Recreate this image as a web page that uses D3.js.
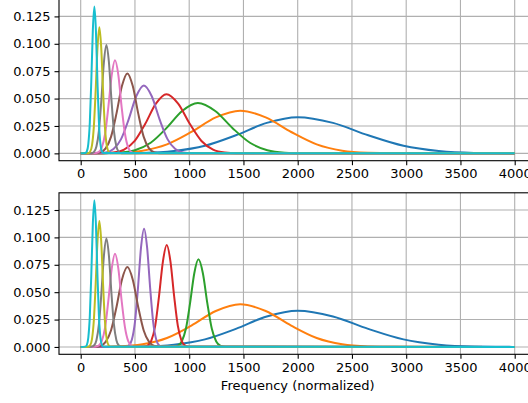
<!DOCTYPE html>
<html>
<head>
<meta charset="utf-8">
<script src="https://cdn.jsdelivr.net/npm/d3@7"></script>
<style>
  body { margin: 0; background: #fff; }
  text { font-family: "DejaVu Sans", sans-serif; font-size: 13px; fill: #000; }
</style>
</head>
<body>
<script>
// tick labels
let xTicks = [0, 500, 1000, 1500, 2000, 2500, 3000, 3500, 4000]
let yTicks = [0, 0.025, 0.05, 0.075, 0.1, 0.125]
let xLabel = "Frequency (normalized)"

// filter curves (frequency, value)
let blueF = [0, 290, 575, 860, 1145, 1430, 1715, 2000, 2325, 2650, 2975, 3300, 3625, 3950, 4000]
let blueV = [0, 0.0001, 0.0004, 0.0021, 0.0069, 0.0165, 0.0278, 0.033, 0.0278, 0.0165, 0.0069, 0.0021, 0.0004, 0.0001, 0]

let orangeF = [0, 120, 345, 570, 795, 1020, 1245, 1470, 1705, 1940, 2175, 2410, 2645, 2880, 4000]
let orangeV = [0, 0.0001, 0.0005, 0.0024, 0.0082, 0.0195, 0.0328, 0.039, 0.0328, 0.0195, 0.0082, 0.0024, 0.0005, 0.0001, 0]

let greenTopF = [0, 210, 355, 500, 645, 790, 935, 1080, 1240, 1400, 1560, 1720, 1880, 2040, 4000]
let greenTopV = [0, 0.0001, 0.0006, 0.0029, 0.0097, 0.023, 0.0387, 0.046, 0.0387, 0.023, 0.0097, 0.0029, 0.0006, 0.0001, 0]

let redTopF = [0, 205, 303, 400, 498, 595, 693, 790, 898, 1005, 1113, 1220, 1328, 1435, 4000]
let redTopV = [0, 0.0001, 0.0007, 0.0034, 0.0113, 0.027, 0.0454, 0.054, 0.0454, 0.027, 0.0113, 0.0034, 0.0007, 0.0001, 0]

let purpleTopF = [0, 162, 232, 302, 372, 442, 512, 582, 655, 727, 800, 872, 945, 1017, 4000]
let purpleTopV = [0, 0.0001, 0.0008, 0.0039, 0.013, 0.031, 0.0521, 0.062, 0.0521, 0.031, 0.013, 0.0039, 0.0008, 0.0001, 0]

let brownF = [0, 130, 180, 230, 280, 330, 380, 430, 480, 530, 580, 630, 680, 730, 4000]
let brownV = [0, 0.0001, 0.0009, 0.0046, 0.0153, 0.0365, 0.0614, 0.073, 0.0614, 0.0365, 0.0153, 0.0046, 0.0009, 0.0001, 0]

let pinkF = [0, 133, 164, 194, 225, 255, 286, 316, 347, 377, 408, 438, 469, 499, 4000]
let pinkV = [0, 0.0002, 0.0011, 0.0053, 0.0179, 0.0425, 0.0715, 0.085, 0.0715, 0.0425, 0.0179, 0.0053, 0.0011, 0.0002, 0]

let grayF = [0, 99, 122, 145, 168, 191, 214, 237, 260, 283, 306, 329, 352, 375, 4000]
let grayV = [0, 0.0002, 0.0013, 0.0062, 0.0208, 0.0495, 0.0833, 0.099, 0.0833, 0.0495, 0.0208, 0.0062, 0.0013, 0.0002, 0]

let oliveF = [0, 70, 87, 104, 121, 138, 155, 172, 189, 206, 223, 240, 257, 274, 4000]
let oliveV = [0, 0.0002, 0.0015, 0.0072, 0.0242, 0.0575, 0.0967, 0.115, 0.0967, 0.0575, 0.0242, 0.0072, 0.0015, 0.0002, 0]

let cyanF = [0, 42, 56, 70, 84, 98, 112, 126, 140, 154, 168, 182, 196, 210, 4000]
let cyanV = [0, 0.0003, 0.0017, 0.0084, 0.0281, 0.067, 0.1127, 0.134, 0.1127, 0.067, 0.0281, 0.0084, 0.0017, 0.0003, 0]

// narrower filters of the lower panel
let greenBotF = [0, 854, 893, 931, 970, 1008, 1047, 1085, 1126, 1167, 1208, 1249, 1290, 1331, 4000]
let greenBotV = [0, 0.0002, 0.001, 0.005, 0.0168, 0.04, 0.0673, 0.08, 0.0673, 0.04, 0.0168, 0.005, 0.001, 0.0002, 0]

let redBotF = [0, 580, 616, 651, 687, 722, 758, 793, 827, 861, 895, 929, 963, 997, 4000]
let redBotV = [0, 0.0002, 0.0012, 0.0058, 0.0195, 0.0465, 0.0782, 0.093, 0.0782, 0.0465, 0.0195, 0.0058, 0.0012, 0.0002, 0]

let purpleBotF = [0, 416, 444, 472, 500, 528, 556, 584, 612, 640, 668, 696, 724, 752, 4000]
let purpleBotV = [0, 0.0002, 0.0014, 0.0068, 0.0227, 0.054, 0.0908, 0.108, 0.0908, 0.054, 0.0227, 0.0068, 0.0014, 0.0002, 0]

let topCurves = [[blueF, blueV], [orangeF, orangeV], [greenTopF, greenTopV], [redTopF, redTopV],
    [purpleTopF, purpleTopV], [brownF, brownV], [pinkF, pinkV], [grayF, grayV], [oliveF, oliveV], [cyanF, cyanV]]
let bottomCurves = [[blueF, blueV], [orangeF, orangeV], [greenBotF, greenBotV], [redBotF, redBotV],
    [purpleBotF, purpleBotV], [brownF, brownV], [pinkF, pinkV], [grayF, grayV], [oliveF, oliveV], [cyanF, cyanV]]

let colors = d3.schemeCategory10

let width = 528
let height = 403
let left = 59
let right = 536.4
let panelH = 161.5

let svg = d3.select("body").append("svg")
    .attr("width", width)
    .attr("height", height)

let x = d3.scaleLinear().domain([-200, 4200]).range([left, right])

function drawPanel(top, curves, withLabel){
    let y = d3.scaleLinear().domain([-0.0067, 0.1407]).range([top + panelH, top])
    let g = svg.append("g")

    // grid
    g.selectAll("line.vgrid").data(xTicks).enter().append("line")
        .attr("x1", d => x(d)).attr("x2", d => x(d))
        .attr("y1", top).attr("y2", top + panelH)
        .attr("stroke", "#b0b0b0").attr("stroke-width", 1.1)
    g.selectAll("line.hgrid").data(yTicks).enter().append("line")
        .attr("x1", left).attr("x2", right)
        .attr("y1", d => y(d)).attr("y2", d => y(d))
        .attr("stroke", "#b0b0b0").attr("stroke-width", 1.1)

    // curves
    let line = d3.line()
        .x(d => x(d[0]))
        .y(d => y(d[1]))
        .curve(d3.curveMonotoneX)
    curves.forEach((c, i) => {
        let pts = c[0].map((f, k) => [f, c[1][k]])
        g.append("path")
            .attr("d", line(pts))
            .attr("fill", "none")
            .attr("stroke", colors[i])
            .attr("stroke-width", 2)
    })

    // axes
    let xAxis = d3.axisBottom(x).tickValues(xTicks).tickSize(4.5).tickPadding(4).tickFormat(d3.format("d"))
    let yAxis = d3.axisLeft(y).tickValues(yTicks).tickSize(4.5).tickPadding(4).tickFormat(d3.format(".3f"))
    let gx = g.append("g").attr("transform", "translate(0," + (top + panelH) + ")").call(xAxis)
    let gy = g.append("g").attr("transform", "translate(" + left + ",0)").call(yAxis)
    ;[gx, gy].forEach(a => {
        a.select(".domain").remove()
        a.selectAll("line").attr("stroke", "#000").attr("stroke-width", 1.1)
        a.selectAll("text").attr("font-family", "DejaVu Sans").attr("font-size", 13).attr("fill", "#000")
    })

    // frame
    g.append("rect")
        .attr("x", left).attr("y", top)
        .attr("width", right - left).attr("height", panelH)
        .attr("fill", "none").attr("stroke", "#000").attr("stroke-width", 1.1)

    if(withLabel){
        g.append("text")
            .attr("x", (left + right) / 2)
            .attr("y", top + panelH + 36)
            .attr("text-anchor", "middle")
            .text(xLabel)
    }
}

drawPanel(-0.8, topCurves, false)
drawPanel(192.8, bottomCurves, true)
</script>
</body>
</html>
